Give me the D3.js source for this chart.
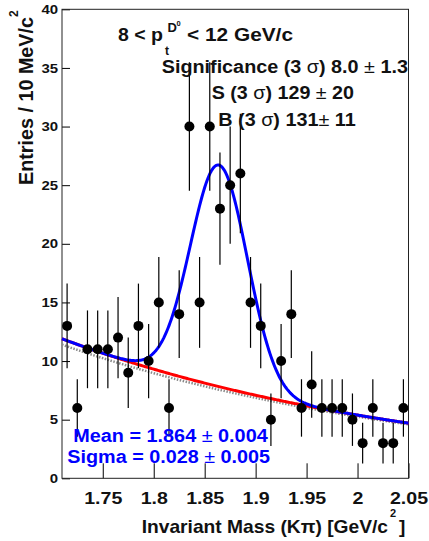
<!DOCTYPE html>
<html><head><meta charset="utf-8">
<script src="https://cdn.jsdelivr.net/npm/d3@7"></script>
<style>
body{margin:0;background:#fff}
svg{display:block}
text{font-family:"Liberation Sans",Arial,Helvetica,sans-serif;font-weight:bold}
</style>
</head><body>
<svg id="c" width="429" height="541"></svg>
<script>
// ---- data ----
const binCenters = [1.715,1.725,1.735,1.745,1.755,1.765,1.775,1.785,1.795,1.805,1.815,1.825,
  1.835,1.845,1.855,1.865,1.875,1.885,1.895,1.905,1.915,1.925,1.935,1.945,1.955,1.965,
  1.975,1.985,1.995,2.005,2.015,2.025,2.035,2.045];
const counts = [13,6,11,11,11,12,9,13,10,15,6,14,30,15,30,23,25,26,15,13,5,10,14,6,8,6,6,6,5,3,6,3,3,6];
const xTicks = [1.75,1.8,1.85,1.9,1.95,2,2.05];
const xTickLabels = ["1.75","1.8","1.85","1.9","1.95","2","2.05"];
const yTicks = [0,5,10,15,20,25,30,35,40];
const yTickLabels = ["0","5","10","15","20","25","30","35","40"];
// fit: gaussian signal + exponential background ; sideband background (gray)
const sigParams = [18.9, 1.864, 0.028];   // amplitude, mean, sigma
const bgParams = [11.9, -2.73];           // value at 1.71, slope
const sbParams = [11.4, -2.67];

const svg = d3.select("#c");
const L=62, R=408.5, T=9.3, B=478.3;
const x = d3.scaleLinear().domain([1.71,2.05]).range([L,R]);
const y = d3.scaleLinear().domain([0,40]).range([B,T]);

function bg(m){return bgParams[0]*Math.exp(bgParams[1]*(m-1.71));}
function sb(m){return sbParams[0]*Math.exp(sbParams[1]*(m-1.71));}
function tot(m){return bg(m)+sigParams[0]*Math.exp(-0.5*Math.pow((m-sigParams[1])/sigParams[2],2));}

// axes
const minorX = d3.range(172,205).map(d=>d/100).filter(d=>Math.round(d*100)%5!==0);
const minorY = d3.range(1,40).filter(d=>d%5!==0);

const gx = svg.append("g").attr("transform",`translate(0,${B})`);
gx.call(d3.axisBottom(x).tickValues(minorX).tickSize(-7.5).tickFormat(""));
gx.call(d3.axisBottom(x).tickValues(xTicks).tickSize(-15).tickPadding(14)
  .tickFormat((d,i)=>xTickLabels[i]));
const gy = svg.append("g").attr("transform",`translate(${L},0)`);
gy.call(d3.axisLeft(y).tickValues(minorY).tickSize(-4.5).tickFormat(""));
gy.call(d3.axisLeft(y).tickValues(yTicks).tickSize(-8).tickPadding(4)
  .tickFormat((d,i)=>yTickLabels[i]));
svg.selectAll(".domain").remove();
svg.selectAll(".tick line").attr("stroke","#000").attr("stroke-width",1);
gx.selectAll("text").attr("font-size",17).attr("fill","#111").attr("font-family",null);
gy.selectAll("text").attr("font-size",13).attr("fill","#111").attr("font-family",null);
svg.selectAll(".tick text").each(function(){
  const w=this.getComputedTextLength();
  d3.select(this).attr("textLength",w*1.15).attr("lengthAdjust","spacingAndGlyphs");
});

// frame
svg.append("rect").attr("x",L).attr("y",T).attr("width",R-L).attr("height",B-T)
  .attr("fill","none").attr("stroke","#222").attr("stroke-width",1);

// curves
const ms = d3.range(0,341).map(i=>1.71+i*0.001);
const line = fn => d3.line().x(m=>x(m)).y(m=>y(fn(m)))(ms);
svg.append("path").attr("d",line(sb)).attr("fill","none").attr("stroke","#8a8a8a")
  .attr("stroke-width",2.5).attr("stroke-dasharray","1.5,1.5");
svg.append("path").attr("d",line(bg)).attr("fill","none").attr("stroke","#ff0000").attr("stroke-width",3);
svg.append("path").attr("d",line(tot)).attr("fill","none").attr("stroke","#0000ff").attr("stroke-width",3);

// data points
const pts = svg.append("g");
binCenters.forEach((m,i)=>{
  const n=counts[i], e=Math.sqrt(n);
  pts.append("line").attr("x1",x(m)).attr("x2",x(m)).attr("y1",y(n-e)).attr("y2",y(n+e))
    .attr("stroke","#000").attr("stroke-width",1.2);
  pts.append("circle").attr("cx",x(m)).attr("cy",y(n)).attr("r",5).attr("fill","#000");
});

// text helper
function txt(xp, yp, parts, size, width, fill, anchor){
  const t = svg.append("text").attr("x",xp).attr("y",yp).attr("font-size",size)
    .attr("fill",fill||"#111").attr("text-anchor",anchor||"start");
  parts.forEach(p=>{
    const s=t.append("tspan").text(p[0]);
    if(p[1]) s.attr("font-weight",p[1]);
  });
  if(width) t.attr("textLength",width).attr("lengthAdjust","spacingAndGlyphs");
  return t;
}

// title
txt(118,41,[["8 < p"]],18.5,45);
txt(165,54.5,[["t"]],12);
txt(167.5,31.5,[["D"]],13);
txt(176.6,25.5,[["0"]],7.5);
txt(187,41,[["< 12 GeV/c"]],18.5,106);

// stats
txt(161.7,72.5,[["Significance (3 "],["σ","normal"],[") 8.0 "],["±","normal"],[" 1.3"]],17.5,246.3);
txt(211.7,99.3,[["S (3 "],["σ","normal"],[") 129 "],["±","normal"],[" 20"]],17.5,142.3);
txt(218.3,126,[["B (3 "],["σ","normal"],[") 131"],["±","normal"],[" 11"]],17.5,137.4);

// fit results
txt(73.3,441.7,[["Mean = 1.864 "],["±","normal"],[" 0.004"]],17.5,194.4,"#0000ff");
txt(67.3,463,[["Sigma = 0.028 "],["±","normal"],[" 0.005"]],17.5,202.7,"#0000ff");

// x title
txt(141.7,533,[["Invariant Mass (K"],["π"],[") [GeV/c"]],18.5,246.3);
txt(390,517,[["2"]],11);
svg.append("text").attr("x",399).attr("y",533).attr("font-size",19).attr("fill","#111").text("]");

// y title
const gt = svg.append("g").attr("transform","translate(33,0) rotate(-90)");
gt.append("text").attr("x",-17).attr("y",0).attr("text-anchor","end").attr("font-size",20)
  .attr("fill","#111").attr("textLength",168).attr("lengthAdjust","spacingAndGlyphs")
  .text("Entries / 10 MeV/c");
gt.append("text").attr("x",-17).attr("y",-14.7).attr("font-size",12).attr("fill","#111").text("2");
</script>
</body></html>
